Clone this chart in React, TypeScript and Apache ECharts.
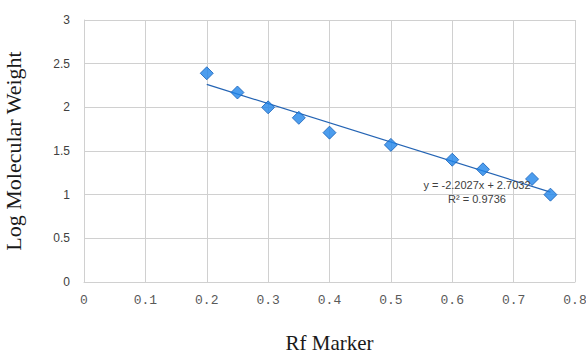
import React, { useEffect, useRef } from "react";
import * as echarts from "echarts";

const rfValues = [0.2, 0.25, 0.3, 0.35, 0.4, 0.5, 0.6, 0.65, 0.73, 0.76];
const logMW = [2.39, 2.17, 2.0, 1.88, 1.71, 1.57, 1.4, 1.29, 1.18, 1.0];
const slope = -2.2027;
const intercept = 2.7032;
const rSquared = 0.9736;
const trendRange = [0.2, 0.76];

export default function App() {
  const ref = useRef<HTMLDivElement>(null);
  useEffect(() => {
    if (!ref.current) return;
    const chart = echarts.init(ref.current, undefined, { renderer: "svg" });
    const points = rfValues.map((x, i) => [x, logMW[i]]);
    const trend = trendRange.map((x) => [x, slope * x + intercept]);
    chart.setOption({
      animation: false,
      backgroundColor: "#ffffff",
      grid: { left: 84, right: 11, top: 20, bottom: 72, show: false, outerBoundsMode: "none", containLabel: false },
      xAxis: {
        type: "value",
        min: 0,
        max: 0.8,
        interval: 0.1,
        name: "Rf Marker",
        nameLocation: "middle",
        nameGap: 50,
        nameTextStyle: { fontFamily: "Liberation Serif, DejaVu Serif, serif", fontSize: 21, color: "#1a1a1a" },
        axisLine: { show: true, lineStyle: { color: "#d0d0d0" } },
        axisTick: { show: false },
        axisLabel: {
          margin: 12,
          fontFamily: "Liberation Mono, DejaVu Sans Mono, monospace",
          fontSize: 13,
          color: "#595959",
          formatter: (v: number) => (Math.round(v * 10) / 10).toString(),
        },
        splitLine: { show: true, lineStyle: { color: "#d0d0d0", width: 1 } },
      },
      yAxis: {
        type: "value",
        min: 0,
        max: 3,
        interval: 0.5,
        name: "Log Molecular Weight",
        nameLocation: "middle",
        nameGap: 60,
        nameTextStyle: { fontFamily: "Liberation Serif, DejaVu Serif, serif", fontSize: 22, color: "#1a1a1a" },
        axisLine: { show: true, lineStyle: { color: "#d0d0d0" } },
        axisTick: { show: false },
        axisLabel: {
          margin: 14,
          fontFamily: "Liberation Sans, Arial, sans-serif",
          fontSize: 12,
          color: "#404040",
        },
        splitLine: { show: true, lineStyle: { color: "#d0d0d0", width: 1 } },
      },
      series: [
        {
          type: "line",
          data: trend,
          showSymbol: false,
          symbol: "none",
          lineStyle: { color: "#2464b4", width: 1.2 },
          z: 2,
        },
        {
          type: "scatter",
          data: points,
          symbol: "diamond",
          symbolSize: 13,
          itemStyle: { color: "#1f84ea", borderColor: "#1760b8", borderWidth: 1 },
          z: 3,
        },
      ],
      graphic: [
        {
          type: "text",
          x: 477,
          y: 185,
          style: {
            text: `y = ${slope}x + ${intercept}`,
            fontFamily: "Liberation Sans, Arial, sans-serif",
            fontSize: 11,
            fill: "#404040",
            align: "center",
            verticalAlign: "middle",
          },
          z: 10,
        },
        {
          type: "text",
          x: 477,
          y: 199,
          style: {
            text: `R² = ${rSquared}`,
            fontFamily: "Liberation Sans, Arial, sans-serif",
            fontSize: 11,
            fill: "#404040",
            align: "center",
            verticalAlign: "middle",
          },
          z: 10,
        },
      ],
    });
    return () => chart.dispose();
  }, []);
  return <div ref={ref} style={{ width: 586, height: 354, position: "absolute", left: 0, top: 0 }} />;
}
